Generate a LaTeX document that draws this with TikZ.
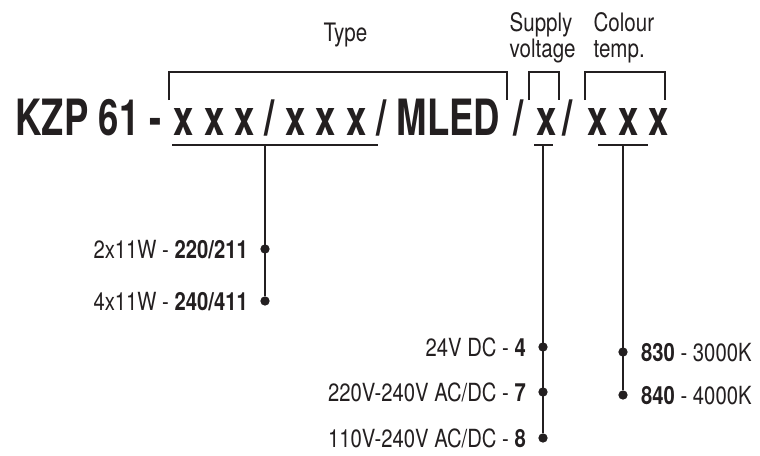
\documentclass[tikz,border=0pt]{standalone}
\usepackage{fontspec}
\setmainfont{TeX Gyre Heros}[FakeStretch=0.81]
\newfontfamily\titlefont{TeX Gyre Heros}[FakeStretch=0.73]
\usetikzlibrary{positioning}
\definecolor{ink}{HTML}{231F20}

\begin{document}
\begin{tikzpicture}[x=0.5pt, y=-0.5pt, line width=0.6pt, draw=ink, text=ink,
    seg/.style={inner sep=0, anchor=base west, font=\titlefont\bfseries\fontsize{25}{30}\selectfont},
    head/.style={inner sep=0, anchor=base west, align=left, font=\fontsize{12.7}{13}\selectfont},
    lbl/.style={inner sep=0, font=\fontsize{12.5}{13}\selectfont, text height=9pt, text depth=0pt},
    bullet/.style={circle, draw=ink, fill=ink, inner sep=0, minimum size=4pt},
]
    \useasboundingbox (0,0) rectangle (760,455);
    % code line
    \node[seg] (kzp) at (15,135) {KZP 61 -};
    \node[seg] (typ) at (173,135) {x x x / x x x / MLED};
    \node[seg] (sl1) at (513,135) {/};
    \node[seg] (vol) at (536,135) {x};
    \node[seg] (sl2) at (562,135) {/};
    \node[seg] (col) at (587,135) {x x x};
    % headings
    \node[head] (htyp) at (323,41) {Type};
    \node[head] (hvol) at (509,57) {Supply\\voltage};
    \node[head] (hcol) at (593,57) {Colour\\temp.};
    \draw (169,100) |- (507,72) -- (507,100);
    \draw (529,100) |- (559,72) -- (559,100);
    \draw (585,100) |- (665,72) -- (665,100);
    % type options
    \node[bullet] (d220) at (265,249) {};
    \node[bullet] (d240) at (265,301) {};
    \node[lbl, left=6pt of d220] (l220) {2x11W - \textbf{220/211}};
    \node[lbl, left=6pt of d240] (l240) {4x11W - \textbf{240/411}};
    \draw (172,145) -- (378,145);
    \coordinate (ut) at (265,145);
    \draw (ut) -- (d240);
    % supply voltage options
    \node[bullet] (d4) at (543,347) {};
    \node[bullet] (d7) at (543,392) {};
    \node[bullet] (d8) at (543,438) {};
    \node[lbl, left=6pt of d4] (l4) {24V DC - \textbf{4}};
    \node[lbl, left=6pt of d7] (l7) {220V-240V AC/DC - \textbf{7}};
    \node[lbl, left=6pt of d8] (l8) {110V-240V AC/DC - \textbf{8}};
    \draw (534,145) -- (553,145);
    \coordinate (uv) at (543,145);
    \draw (uv) -- (d8);
    % colour temperature options
    \node[bullet] (d830) at (623,352) {};
    \node[bullet] (d840) at (623,395) {};
    \node[lbl, right=6.5pt of d830] (l830) {\textbf{830} - 3000K};
    \node[lbl, right=6.5pt of d840] (l840) {\textbf{840} - 4000K};
    \draw (598,145) -- (648,145);
    \coordinate (uc) at (623,145);
    \draw (uc) -- (d840);
\end{tikzpicture}
\end{document}
